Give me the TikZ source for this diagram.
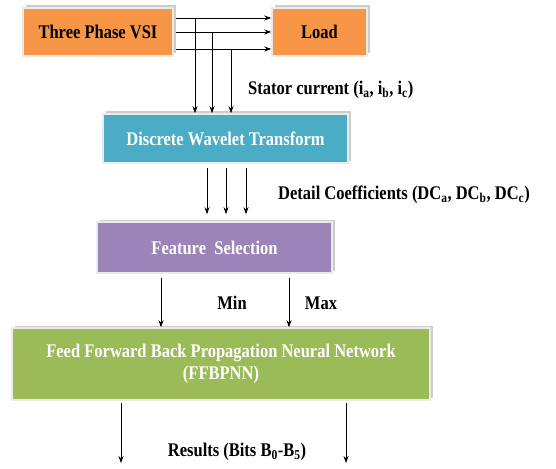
\documentclass[tikz,border=0pt]{standalone}
\usepackage{fontspec}
\setmainfont{Liberation Serif}
\usetikzlibrary{arrows.meta,positioning,calc,shadows}
\definecolor{vsiorange}{RGB}{247,150,70}
\definecolor{dwtteal}{RGB}{75,172,198}
\definecolor{fspurple}{RGB}{155,133,184}
\definecolor{nngreen}{RGB}{155,187,89}
\newcommand{\alto}[1]{\scalebox{1}[1.17]{#1}}
\tikzset{
  bloque/.style={
    rectangle, draw=black!8, line width=1.6pt, align=center,
    inner sep=0pt, font=\fontsize{16.5}{22}\selectfont\bfseries,
    drop shadow={shadow xshift=2.5pt, shadow yshift=2.5pt,
                 fill=black!25, opacity=0.8}},
  etiq/.style={font=\fontsize{16.5}{20}\selectfont\bfseries, inner sep=0pt},
  flecha/.style={-{Stealth[length=7pt,width=5pt]}, line width=0.8pt}
}
\begin{document}
\begin{tikzpicture}[x=1pt, y=-1pt]
\useasboundingbox (0,0) rectangle (556,468);

\node[bloque, fill=vsiorange, minimum width=150pt, minimum height=48pt]
      (vsi) at (98,32) {\alto{Three Phase VSI}};
\node[bloque, fill=vsiorange, minimum width=95pt, minimum height=48pt]
      (load) at (319.5,32) {\alto{Load}};
\node[bloque, fill=dwtteal, text=white, minimum width=245pt, minimum height=49pt]
      (dwt) at (225.5,138.5) {\alto{Discrete Wavelet Transform}};
\node[bloque, fill=fspurple, text=white, minimum width=235pt, minimum height=51pt]
      (fs) at (214.5,247.5) {\alto{Feature\ \ Selection}};
\node[bloque, fill=nngreen, text=white, minimum width=418pt, minimum height=72pt]
      (ffb) at (221,364)
      {\alto{Feed Forward Back Propagation Neural Network}\\\alto{(FFBPNN)}};

% VSI -> Load, three phases
\foreach \dy in {-14,0,17}
  \draw[flecha] ($(vsi.east)+(2,\dy)$) -- ($(load.west)+(0,\dy)$);

% taps of the stator currents
\coordinate (ta) at (195,18);
\coordinate (tb) at (212,32);
\coordinate (tc) at (231,49);
\foreach \t in {ta,tb,tc}
  \draw[flecha] (\t) -- (\t |- dwt.north);
\node[etiq, anchor=west] (stator) at (248,90)
      {\alto{Stator current (i\textsubscript{a}, i\textsubscript{b}, i\textsubscript{c})}};

% DWT -> Feature selection
\foreach \x in {207,226,246}
  \draw[flecha] ($(\x,0 |- dwt.south)+(0,4)$) -- ($(\x,0 |- fs.north)+(0,-7)$);
\node[etiq, anchor=west] (detalle) at (278,195)
      {\alto{Detail Coefficients (DC\textsubscript{a}, DC\textsubscript{b}, DC\textsubscript{c})}};

% Feature selection -> FFBPNN
\draw[flecha] ($(161,0 |- fs.south)+(0,4)$) -- (161,0 |- ffb.north);
\draw[flecha] ($(289,0 |- fs.south)+(0,4)$) -- (289,0 |- ffb.north);
\node[etiq] (min) at (232,303) {\alto{Min}};
\node[etiq] (max) at (321,303) {\alto{Max}};

% outputs
\coordinate (oa) at (121,463);
\coordinate (ob) at (346,463);
\draw[flecha] ($(oa |- ffb.south)+(0,2)$) -- (oa);
\draw[flecha] ($(ob |- ffb.south)+(0,2)$) -- (ob);
\node[etiq] (res) at (237,452) {\alto{Results (Bits B\textsubscript{0}-B\textsubscript{5})}};

\end{tikzpicture}
\end{document}
